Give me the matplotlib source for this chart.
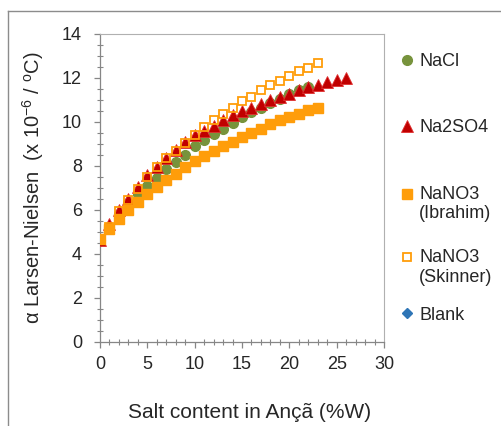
import numpy as np
import matplotlib
matplotlib.use("Agg")
import matplotlib.pyplot as plt
from matplotlib.lines import Line2D
from matplotlib.legend_handler import HandlerLine2D

plt.rcParams["font.family"] = ["Liberation Sans", "DejaVu Sans"]
plt.rcParams["mathtext.default"] = "regular"

# values
x_nacl = list(range(0, 23))
y_nacl = [4.65, 5.25, 5.8, 6.3, 6.74, 7.08, 7.47, 7.85, 8.18, 8.52, 8.89, 9.2,
          9.47, 9.7, 9.95, 10.23, 10.45, 10.65, 10.86, 11.06, 11.26, 11.44, 11.59]

x_na2so4 = list(range(0, 27))
y_na2so4 = [4.62, 5.38, 5.98, 6.52, 7.05, 7.58, 7.95, 8.38, 8.71, 9.09, 9.39, 9.58,
            9.8, 10.08, 10.3, 10.5, 10.65, 10.83, 10.98, 11.14, 11.29, 11.44, 11.59,
            11.67, 11.8, 11.9, 12.02]

x_ibrahim = list(range(0, 24))
y_ibrahim = [4.7, 5.15, 5.58, 6.02, 6.36, 6.71, 7.05, 7.35, 7.65, 7.95, 8.23, 8.47,
             8.68, 8.89, 9.09, 9.32, 9.52, 9.7, 9.89, 10.08, 10.23, 10.38, 10.53, 10.65]

x_skinner = list(range(0, 24))
y_skinner = [4.7, 5.23, 5.95, 6.47, 6.97, 7.5, 7.95, 8.38, 8.68, 9.05, 9.39, 9.77,
             10.11, 10.38, 10.65, 10.94, 11.14, 11.44, 11.67, 11.86, 12.09, 12.3,
             12.45, 12.68]

x_blank = [0]
y_blank = [4.6]

labels = ["NaCl", "Na2SO4", "NaNO3\n(Ibrahim)", "NaNO3\n(Skinner)", "Blank"]


class FirstLineHandler(HandlerLine2D):
    # put the marker beside the first line of a two-line label
    def __init__(self, shift, **kw):
        super().__init__(**kw)
        self.shift = shift

    def create_artists(self, legend, orig_handle, xdescent, ydescent, width,
                       height, fontsize, trans):
        arts = super().create_artists(legend, orig_handle, xdescent, ydescent,
                                      width, height, fontsize, trans)
        for a in arts:
            a.set_ydata(np.asarray(a.get_ydata()) + self.shift)
        return arts


fig = plt.figure(figsize=(5.02, 4.26), dpi=100)
W, H = 502, 426
ax = fig.add_axes([100 / W, 1 - 342 / H, 284 / W, 308 / H])

ax.plot(x_blank, y_blank, ls="none", marker="D", ms=5, color="#2E75B6", zorder=1)
ax.plot(x_nacl, y_nacl, ls="none", marker="o", ms=7, color="#77933C", zorder=2)
ax.plot(x_na2so4, y_na2so4, ls="none", marker="^", ms=8.5, mfc="#C00000",
        mec="#E03030", mew=0.6, zorder=3)
ax.plot(x_ibrahim, y_ibrahim, ls="none", marker="s", ms=7.2, color="#FF9D0A", zorder=4)
ax.plot(x_skinner, y_skinner, ls="none", marker="s", ms=6.3, mfc="none",
        mec="#FF9D0A", mew=1.3, zorder=5)

ax.set_xlim(0, 30)
ax.set_ylim(0, 14)
ax.set_xticks(np.arange(0, 31, 5))
ax.set_yticks(np.arange(0, 15, 2))
ax.set_xticks(np.arange(0, 31, 1), minor=True)
ax.set_yticks(np.arange(0, 14.1, 0.5), minor=True)

for s in ["left", "bottom"]:
    ax.spines[s].set_color("#868686")
    ax.spines[s].set_linewidth(0.9)
for s in ["top", "right"]:
    ax.spines[s].set_color("#B0B0B0")
    ax.spines[s].set_linewidth(0.8)

ax.tick_params(which="major", direction="out", length=4, width=0.9, color="#868686",
               labelsize=13, labelcolor="#262626", pad=6)
ax.tick_params(which="minor", direction="inout", length=4, width=0.8, color="#868686")
ax.tick_params(axis="y", which="major", pad=9)

ax.set_xlabel("Salt content in Ançã (%W)", fontsize=15, color="#262626")
ax.xaxis.set_label_coords(150 / 284, (342 - 403) / 308)
ax.set_ylabel("α Larsen-Nielsen  (x 10$^{-6}$ / $^{o}$C)", fontsize=14.5, color="#262626")
ax.yaxis.set_label_coords((46 - 100) / 284, 0.5)

# legend, one entry at a time so the rows sit where the reference has them
handles = ax.get_lines()
order = [1, 2, 3, 4, 0]
rows_y = [62, 128, 204, 267.5, 315]
for k, i in enumerate(order):
    h = handles[i]
    hmap = {}
    if "\n" in labels[k]:
        hmap = {h: FirstLineHandler(shift=7.5)}
    fig.legend([h], [labels[k]], loc="center left",
               bbox_to_anchor=(402 / W, 1 - rows_y[k] / H), frameon=False,
               fontsize=13, handlelength=0.6, handletextpad=0.35, borderpad=0,
               borderaxespad=0, numpoints=1, handler_map=hmap,
               labelcolor="#262626")

# outer chart border (top and left edges show in the crop)
fig.add_artist(Line2D([8 / W, 1], [1 - 11 / H, 1 - 11 / H], color="#8C8C8C", lw=1))
fig.add_artist(Line2D([8 / W, 8 / W], [0, 1 - 11 / H], color="#8C8C8C", lw=1))

fig.savefig("out.png", dpi=100)
